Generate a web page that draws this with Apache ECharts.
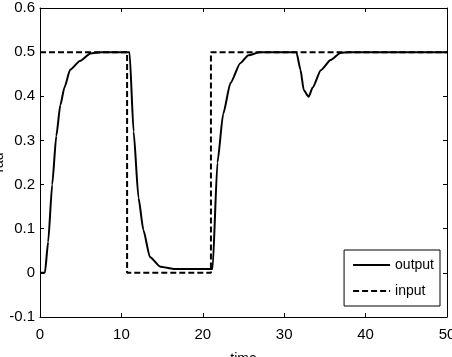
<!DOCTYPE html>
<html>
<head>
<meta charset="utf-8">
<script src="https://cdn.jsdelivr.net/npm/echarts@6/dist/echarts.min.js"></script>
<style>
  html, body { margin: 0; padding: 0; background: #fff; }
  #chart { width: 452px; height: 357px; }
</style>
</head>
<body>
<div id="chart"></div>
<script>
// values
const outputT = [0, 0.6, 1, 1.5, 2, 2.5, 3, 3.7, 4.9, 6.2, 7.5, 11.0, 11.5, 12.1, 12.7, 13.5, 14.8, 16.4, 21.2, 21.8, 22.5, 23.4, 24.6, 25.6, 27, 31.5, 32.0, 32.4, 33.0, 33.5, 34.5, 35.7, 36.9, 38, 50]
const outputY = [0, 0, 0.07, 0.2, 0.31, 0.38, 0.42, 0.46, 0.48, 0.497, 0.5, 0.5, 0.32, 0.17, 0.097, 0.036, 0.014, 0.009, 0.009, 0.25, 0.36, 0.43, 0.475, 0.493, 0.5, 0.5, 0.46, 0.414, 0.399, 0.42, 0.459, 0.482, 0.498, 0.5, 0.5]
const inputT = [0, 10.7, 10.7, 21, 21, 50]
const inputY = [0.5, 0.5, 0, 0, 0.5, 0.5]

const font = "'Liberation Sans Narrow', 'Liberation Sans', Arial, sans-serif"

function pairs(xs, ys) {
  return xs.map((x, i) => [x, ys[i]])
}

const chart = echarts.init(document.getElementById('chart'))

const axisLine = { show: true, onZero: false, lineStyle: { color: '#000', width: 1 } }
const axisTick = { show: true, inside: true, length: 4, lineStyle: { color: '#000' } }

chart.setOption({
  animation: false,
  backgroundColor: '#fff',
  grid: { left: 40, right: 5, top: 8, bottom: 40, outerBoundsMode: 'none', containLabel: false },
  legend: {
    orient: 'vertical',
    right: 12,
    top: 250,
    itemWidth: 37,
    itemHeight: 12,
    itemGap: 12,
    padding: [8, 6, 8, 8],
    backgroundColor: '#fff',
    borderColor: '#000',
    borderWidth: 1,
    borderRadius: 0,
    itemStyle: { opacity: 0 },
    textStyle: { fontFamily: font, fontSize: 14, color: '#000' },
    data: ['output', 'input']
  },
  xAxis: [{
    type: 'value',
    min: 0, max: 50, interval: 10,
    name: 'time',
    nameLocation: 'middle',
    nameGap: 35,
    nameMoveOverlap: false,
    nameTextStyle: { fontFamily: font, fontSize: 14, color: '#000' },
    axisLine: axisLine,
    axisTick: axisTick,
    splitLine: { show: false },
    axisLabel: { color: '#000', fontFamily: font, fontSize: 15, margin: 10 }
  }, {
    type: 'value', position: 'top',
    min: 0, max: 50, interval: 10,
    axisLine: axisLine, axisTick: axisTick,
    splitLine: { show: false }, axisLabel: { show: false }
  }],
  yAxis: [{
    type: 'value',
    min: -0.1, max: 0.6, interval: 0.1,
    name: 'rad',
    nameLocation: 'middle',
    nameGap: 34,
    nameMoveOverlap: false,
    nameTextStyle: { fontFamily: font, fontSize: 14, color: '#000' },
    axisLine: axisLine,
    axisTick: axisTick,
    splitLine: { show: false },
    axisLabel: {
      color: '#000', fontFamily: font, fontSize: 15, margin: 5,
      formatter: v => String(Math.round(v * 10) / 10)
    }
  }, {
    type: 'value', position: 'right',
    min: -0.1, max: 0.6, interval: 0.1,
    axisLine: axisLine, axisTick: axisTick,
    splitLine: { show: false }, axisLabel: { show: false }
  }],
  series: [{
    name: 'output',
    type: 'line',
    symbol: 'none',
    smooth: 0.2,
    smoothMonotone: 'x',
    data: pairs(outputT, outputY),
    lineStyle: { color: '#000', width: 2 },
    itemStyle: { color: '#000' }
  }, {
    name: 'input',
    type: 'line',
    symbol: 'none',
    data: pairs(inputT, inputY),
    lineStyle: { color: '#000', width: 2, type: [6, 3] },
    itemStyle: { color: '#000' }
  }]
})
</script>
</body>
</html>
